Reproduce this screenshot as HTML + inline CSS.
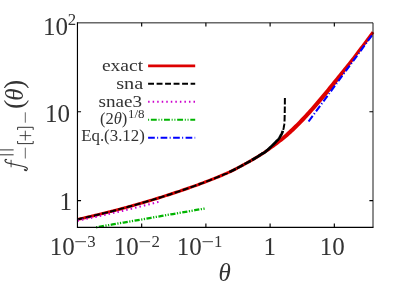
<!DOCTYPE html>
<html><head><meta charset="utf-8"><style>
html,body{margin:0;padding:0;background:#fff;}
svg{display:block}
text{font-family:"Liberation Serif",serif;fill:#333;}
</style></head><body>
<svg width="407" height="286" viewBox="0 0 407 286">
<defs><filter id="idf" x="0" y="0" width="407" height="286" filterUnits="userSpaceOnUse"><feOffset dx="0" dy="0"/></filter></defs>
<rect width="407" height="286" fill="#fff"/>
<g fill="none" stroke-linejoin="round">
<path d="M77.77 220.89 L79.26 220.56 L80.75 220.23 L82.23 219.89 L83.72 219.56 L85.21 219.22 L86.70 218.88 L88.18 218.54 L89.67 218.19 L91.16 217.85 L92.65 217.50 L94.13 217.15 L95.62 216.79 L97.11 216.43 L98.60 216.07 L100.08 215.71 L101.57 215.35 L103.06 214.98 L104.55 214.61 L106.03 214.24 L107.52 213.87 L109.01 213.49 L110.50 213.11 L111.98 212.73 L113.47 212.35 L114.96 211.96 L116.44 211.57 L117.93 211.18 L119.42 210.79 L120.91 210.39 L122.39 209.99 L123.88 209.59 L125.37 209.19 L126.86 208.78 L128.34 208.38 L129.83 207.96 L131.32 207.55 L132.81 207.14 L134.29 206.72 L135.78 206.30 L137.27 205.87 L138.76 205.45 L140.24 205.02 L141.73 204.59 L143.22 204.16 L144.71 203.72 L146.19 203.28 L147.68 202.84 L149.17 202.40 L150.66 201.95 L152.14 201.50 L153.63 201.05 L155.12 200.60 L156.61 200.14 L158.09 199.68 L159.58 199.22 L161.07 198.76 L162.56 198.29 L164.04 197.82 L165.53 197.35 L167.02 196.87 L168.51 196.40 L169.99 195.91 L171.48 195.43 L172.97 194.94 L174.46 194.46 L175.94 193.96 L177.43 193.47 L178.92 192.97 L180.41 192.47 L181.90 191.96 L183.38 191.46 L184.87 190.95 L186.36 190.43 L187.85 189.91 L189.33 189.39 L190.82 188.87 L192.31 188.34 L193.80 187.81 L195.29 187.28 L196.78 186.74 L198.26 186.20 L199.75 185.65 L201.24 185.10 L202.73 184.54 L204.22 183.99 L205.71 183.42 L207.20 182.85 L208.69 182.28 L210.17 181.70 L211.66 181.12 L213.15 180.53 L214.64 179.94 L216.13 179.34 L217.62 178.74 L219.11 178.13 L220.60 177.51 L222.09 176.89 L223.58 176.26 L225.07 175.62 L226.57 174.98 L228.06 174.33 L229.59 173.61 L231.08 172.88 L232.57 172.15 L234.07 171.40 L235.56 170.65 L237.05 169.89 L238.54 169.11 L240.04 168.33 L241.53 167.53 L243.02 166.73 L244.52 165.91 L246.01 165.08 L247.47 164.27 L248.97 163.46 L250.46 162.63 L251.96 161.79 L253.45 160.93 L254.95 160.05 L256.44 159.16 L257.94 158.25 L259.44 157.33 L260.93 156.39 L262.43 155.42 L263.92 154.46 L265.41 153.47 L266.91 152.47 L268.41 151.44 L269.90 150.39 L271.40 149.32 L272.90 148.23 L274.42 147.15 L275.95 146.05 L277.47 144.92 L279.00 143.78 L280.52 142.60 L282.05 141.41 L283.58 140.19 L285.11 138.94 L286.63 137.68 L288.16 136.39 L289.69 135.07 L291.22 133.73 L292.72 132.34 L294.22 130.92 L295.71 129.48 L297.21 128.02 L298.70 126.54 L300.20 125.03 L301.70 123.51 L303.19 121.96 L304.68 120.39 L306.18 118.81 L307.67 117.21 L309.16 115.58 L310.66 113.95 L312.15 112.29 L313.64 110.62 L315.13 108.93 L316.62 107.22 L318.11 105.51 L319.61 103.77 L321.10 102.03 L322.59 100.27 L324.08 98.49 L325.57 96.71 L327.05 94.91 L328.54 93.10 L330.03 91.28 L331.52 89.46 L333.01 87.62 L334.50 85.77 L335.99 83.91 L337.45 82.03 L338.91 80.13 L340.36 78.22 L341.82 76.30 L343.27 74.38 L344.72 72.44 L346.17 70.51 L347.63 68.56 L349.08 66.61 L350.53 64.65 L351.98 62.69 L353.44 60.73 L354.93 58.78 L356.41 56.83 L357.90 54.87 L359.38 52.91 L360.87 50.94 L362.36 48.97 L363.84 46.99 L365.33 45.01 L366.82 43.03 L368.30 41.04 L369.79 39.04 L371.27 37.05 L372.76 35.05 L374.25 33.04 L371.75 31.20 L370.27 33.20 L368.79 35.20 L367.30 37.19 L365.82 39.18 L364.33 41.17 L362.85 43.15 L361.36 45.13 L359.88 47.10 L358.40 49.07 L356.91 51.04 L355.43 53.00 L353.94 54.95 L352.46 56.90 L350.98 58.84 L349.46 60.76 L347.94 62.66 L346.43 64.56 L344.91 66.46 L343.39 68.34 L341.87 70.22 L340.35 72.10 L338.84 73.96 L337.32 75.82 L335.80 77.67 L334.29 79.51 L332.78 81.35 L331.30 83.20 L329.82 85.04 L328.34 86.87 L326.86 88.69 L325.38 90.50 L323.89 92.30 L322.41 94.09 L320.93 95.86 L319.45 97.62 L317.97 99.37 L316.49 101.10 L315.01 102.83 L313.53 104.53 L312.05 106.22 L310.57 107.89 L309.10 109.55 L307.62 111.19 L306.14 112.82 L304.66 114.42 L303.19 116.01 L301.71 117.57 L300.23 119.12 L298.76 120.65 L297.28 122.15 L295.81 123.64 L294.33 125.10 L292.86 126.54 L291.38 127.96 L289.91 129.35 L288.44 130.73 L287.00 132.11 L285.56 133.47 L284.12 134.81 L282.67 136.12 L281.23 137.41 L279.79 138.68 L278.34 139.92 L276.90 141.15 L275.46 142.35 L274.01 143.52 L272.56 144.68 L271.12 145.81 L269.64 146.89 L268.17 147.94 L266.70 148.97 L265.22 149.98 L263.75 150.98 L262.28 151.95 L260.80 152.91 L259.32 153.86 L257.85 154.78 L256.37 155.70 L254.90 156.59 L253.42 157.47 L251.95 158.33 L250.47 159.18 L249.00 160.01 L247.52 160.83 L246.05 161.63 L244.54 162.46 L243.06 163.28 L241.59 164.09 L240.11 164.89 L238.63 165.68 L237.16 166.45 L235.68 167.22 L234.20 167.98 L232.72 168.72 L231.24 169.46 L229.76 170.19 L228.28 170.91 L226.85 171.58 L225.37 172.23 L223.89 172.87 L222.41 173.50 L220.93 174.12 L219.45 174.74 L217.97 175.35 L216.49 175.96 L215.01 176.56 L213.53 177.16 L212.05 177.75 L210.57 178.33 L209.09 178.91 L207.61 179.48 L206.12 180.05 L204.64 180.62 L203.16 181.18 L201.68 181.73 L200.20 182.29 L198.72 182.83 L197.23 183.38 L195.75 183.92 L194.27 184.45 L192.79 184.99 L191.31 185.52 L189.82 186.04 L188.34 186.56 L186.86 187.08 L185.38 187.60 L183.89 188.11 L182.41 188.62 L180.93 189.12 L179.45 189.63 L177.96 190.13 L176.48 190.62 L175.00 191.12 L173.52 191.61 L172.03 192.09 L170.55 192.58 L169.07 193.06 L167.59 193.54 L166.10 194.02 L164.62 194.49 L163.14 194.96 L161.65 195.43 L160.17 195.89 L158.69 196.36 L157.21 196.82 L155.72 197.28 L154.24 197.73 L152.76 198.18 L151.27 198.63 L149.79 199.08 L148.31 199.52 L146.83 199.97 L145.34 200.41 L143.86 200.84 L142.38 201.28 L140.89 201.71 L139.41 202.14 L137.93 202.56 L136.45 202.99 L134.96 203.41 L133.48 203.83 L132.00 204.25 L130.51 204.66 L129.03 205.07 L127.55 205.48 L126.06 205.89 L124.58 206.29 L123.10 206.70 L121.62 207.10 L120.13 207.49 L118.65 207.89 L117.17 208.28 L115.68 208.67 L114.20 209.06 L112.72 209.44 L111.24 209.83 L109.75 210.21 L108.27 210.58 L106.79 210.96 L105.30 211.33 L103.82 211.70 L102.34 212.07 L100.85 212.44 L99.37 212.80 L97.89 213.16 L96.41 213.52 L94.92 213.87 L93.44 214.23 L91.96 214.58 L90.47 214.93 L88.99 215.27 L87.51 215.62 L86.03 215.96 L84.54 216.30 L83.06 216.63 L81.58 216.97 L80.09 217.30 L78.61 217.63 L77.13 217.96Z" fill="#dd0000" stroke="none"/>
<path d="M77.45 219.42 L79.37 219.00 L81.29 218.57 L83.22 218.14 L85.14 217.70 L87.06 217.26 L88.98 216.81 L90.91 216.37 L92.83 215.91 L94.75 215.46 L96.67 215.00 L98.59 214.53 L100.52 214.06 L102.44 213.59 L104.36 213.11 L106.28 212.63 L108.20 212.15 L110.13 211.66 L112.05 211.16 L113.97 210.67 L115.89 210.17 L117.82 209.66 L119.74 209.15 L121.66 208.64 L123.58 208.12 L125.50 207.60 L127.43 207.07 L129.35 206.54 L131.27 206.01 L133.19 205.47 L135.11 204.93 L137.04 204.38 L138.96 203.83 L140.88 203.27 L142.80 202.71 L144.73 202.15 L146.65 201.58 L148.57 201.01 L150.49 200.44 L152.41 199.85 L154.34 199.27 L156.26 198.68 L158.18 198.09 L160.10 197.49 L162.02 196.89 L163.95 196.28 L165.87 195.67 L167.79 195.05 L169.71 194.43 L171.64 193.80 L173.56 193.17 L175.48 192.54 L177.40 191.90 L179.32 191.25 L181.25 190.60 L183.17 189.94 L185.09 189.28 L187.01 188.62 L188.93 187.94 L190.86 187.27 L192.78 186.58 L194.70 185.89 L196.62 185.20 L198.55 184.50 L200.47 183.79 L202.39 183.07 L204.31 182.35 L206.23 181.62 L208.16 180.88 L210.08 180.13 L212.00 179.38 L213.92 178.61 L215.84 177.84 L217.77 177.06 L219.69 176.27 L221.61 175.46 L223.53 174.65 L225.46 173.82 L227.38 172.99 L229.30 172.08" stroke="#000" stroke-width="2" stroke-dasharray="6.2 2.2"/>
<path d="M229.30 172.08 L230.08 171.70 L230.87 171.32 L231.65 170.93 L232.43 170.54 L233.21 170.15 L234.00 169.76 L234.78 169.36 L235.56 168.97 L236.34 168.56 L237.13 168.16 L237.91 167.75 L238.69 167.34 L239.48 166.93 L240.26 166.51 L241.04 166.09 L241.82 165.67 L242.61 165.25 L243.39 164.82 L244.17 164.38 L244.96 163.95 L245.74 163.51 L246.52 163.08 L247.30 162.66 L248.09 162.23 L248.87 161.80 L249.65 161.36 L250.43 160.92 L251.22 160.48 L252.00 160.03" stroke="#000" stroke-width="2.5" stroke-dasharray="7.4 1.1"/>
<path d="M252.00 160.03 L252.89 159.52 L253.78 159.00 L254.67 158.48 L255.56 157.95 L256.44 157.41 L257.33 156.87 L258.22 156.32 L259.11 155.76 L260.00 155.20 L260.00 155.20 L260.85 154.52 L261.51 154.03 L262.01 153.70 L262.40 153.49 L262.71 153.36 L262.98 153.27 L263.25 153.19 L263.55 153.06 L263.92 152.86 L264.41 152.54 L265.04 152.06 L265.86 151.39 L266.88 150.50 L268.08 149.43 L269.36 148.25 L270.65 147.04 L271.88 145.87 L272.98 144.82 L273.86 143.95 L274.55 143.25 L275.08 142.70 L275.51 142.25 L275.86 141.86 L276.20 141.51 L276.55 141.15 L276.92 140.78 L277.31 140.39 L277.71 139.99 L278.09 139.58 L278.46 139.16 L278.81 138.74 L279.12 138.32 L279.41 137.89 L279.68 137.46 L279.93 137.03 L280.18 136.60 L280.43 136.17 L280.68 135.73 L280.93 135.29 L281.17 134.84 L281.41 134.40 L281.63 133.95 L281.85 133.49 L282.05 133.03 L282.23 132.57 L282.40 132.12 L282.56 131.68 L282.71 131.25 L282.85 130.85" stroke="#000" stroke-width="2.7"/>
<path d="M284.90 98.10 L284.88 100.57 L284.86 102.98 L284.84 105.33 L284.81 107.60 L284.78 109.77 L284.75 111.85 L284.72 113.80 L284.68 115.62 L284.64 117.30 L284.60 118.82 L284.56 120.17 L284.51 121.34 L284.46 122.31 L284.40 123.12 L284.34 123.79 L284.27 124.37 L284.20 124.89 L284.12 125.38 L284.03 125.89 L283.94 126.42 L283.84 126.95 L283.74 127.47 L283.64 127.98 L283.53 128.46 L283.43 128.90 L283.32 129.32 L283.21 129.71 L283.10 130.08 L282.98 130.46 L282.85 130.85" stroke="#000" stroke-width="2" stroke-dasharray="6.4 2.1"/>
<path d="M77.45 220.72 L79.48 220.31 L81.50 219.89 L83.53 219.48 L85.56 219.06 L87.58 218.63 L89.61 218.21 L91.63 217.78 L93.66 217.34 L95.69 216.91 L97.71 216.47 L99.74 216.03 L101.77 215.58 L103.79 215.14 L105.82 214.69 L107.84 214.23 L109.87 213.78 L111.90 213.32 L113.92 212.85 L115.95 212.39 L117.97 211.92 L120.00 211.45 L122.03 210.97 L124.05 210.49 L126.08 210.01 L128.11 209.53 L130.13 209.04 L132.16 208.55 L134.19 208.06 L136.21 207.56 L138.24 207.06 L140.26 206.56 L142.29 206.05 L144.32 205.54 L146.34 205.03 L148.37 204.52 L150.39 204.00 L152.42 203.47 L154.45 202.95 L156.47 202.42 L158.50 201.89" stroke="#cc00cc" stroke-width="2" stroke-dasharray="1.5 3.04"/>
<path d="M96.12 227.30 L101.61 226.35 L107.10 225.40 L112.59 224.45 L118.07 223.50 L123.56 222.56 L129.05 221.61 L134.54 220.66 L140.03 219.71 L145.52 218.76 L151.01 217.81 L156.49 216.86 L161.98 215.92 L167.47 214.97 L172.96 214.02 L178.45 213.07 L183.94 212.12 L189.42 211.17 L194.91 210.22 L200.40 209.28 L205.89 208.33" stroke="#00b400" stroke-width="2.3" stroke-dasharray="5.2 1.5 1.2 1.5 1.2 1.5" stroke-dashoffset="9.4"/>
<path d="M308.60 121.50 L373.30 33.60" stroke="#0000ff" stroke-width="2.1" stroke-dasharray="6.9 2.25 1.1 2.25"/>
<path d="M148.1 65.85H195.2" stroke="#dd0000" stroke-width="2.8"/>
<path d="M148.1 83.7H195.2" stroke="#000" stroke-width="2" stroke-dasharray="5.9 2.6"/>
<path d="M148.1 101.8H195.2" stroke="#cc00cc" stroke-width="2" stroke-dasharray="1.5 3.04"/>
<path d="M148.1 119.85H195.2" stroke="#00b400" stroke-width="2" stroke-dasharray="5.9 1.75 1 1.75 1 1.75" stroke-dashoffset="10.4"/>
<path d="M148.1 137.85H195.2" stroke="#0000ff" stroke-width="2" stroke-dasharray="6.7 2.35 1 2.45"/>
</g>
<g fill="none" stroke="#000" stroke-width="1.15">
<path d="M77.45 22.35V227.3H373.5"/>
<path d="M77.45 22.85H373.0V227.3" stroke-width="0.9"/>
<path d="M77.45 111.78h3.6M77.45 200.57h3.6M373.0 111.78h-3.6M373.0 200.57h-3.6"/>
<path d="M141.67 227.3v-3.7M205.89 227.3v-3.7M270.11 227.3v-3.7M334.33 227.3v-3.7"/>
<path d="M141.67 22.85v3.7M205.89 22.85v3.7M270.11 22.85v3.7M334.33 22.85v3.7"/>
</g>
<g filter="url(#idf)">
<g font-size="25">
<text x="68" y="34.5" text-anchor="end">10</text><text x="67.7" y="24.7" font-size="16.8">2</text>
<text x="70" y="121.5" text-anchor="end">10</text>
<text x="72" y="210.4" text-anchor="end">1</text>
<text x="49.8" y="255.4">10</text><text x="87.2" y="246.5" font-size="16.8">3</text>
<text x="113.8" y="255.4">10</text><text x="151.4" y="246.5" font-size="16.8">2</text>
<text x="176.7" y="255.4">10</text><text x="214.0" y="246.5" font-size="16.8">1</text>
<text x="263.4" y="255.4">1</text>
<text x="319.8" y="255.4">10</text>
<text x="218.5" y="281" font-style="italic">θ</text>
<path d="M75.3 241.7h10.7M139.6 241.7h10.5M202.5 241.7h10.5" stroke="#333" stroke-width="0.95" fill="none"/>
</g>
<g font-size="17.6">
<text x="101.9" y="71.3" textLength="41.3" lengthAdjust="spacingAndGlyphs">exact</text>
<text x="116.2" y="89.1" textLength="27.1" lengthAdjust="spacingAndGlyphs">sna</text>
<text x="98.5" y="106.9" textLength="43.6" lengthAdjust="spacingAndGlyphs">snae3</text>
<text x="81.2" y="141.4" textLength="63.6" lengthAdjust="spacingAndGlyphs">Eq.(3.12)</text>
<text x="99.9" y="124.2" textLength="27.4" lengthAdjust="spacingAndGlyphs">(2<tspan font-style="italic">θ</tspan>)</text>
<text x="127.9" y="118.4" font-size="12.4" textLength="16.6" lengthAdjust="spacingAndGlyphs">1/8</text>
</g>
<g transform="translate(22,171.5) rotate(-90)">
<text x="62.6" y="0.8" font-size="28">(</text>
<text x="70.8" y="1" font-size="25" font-style="italic">θ</text>
<text x="82.4" y="0.8" font-size="28">)</text>
<g stroke="#333" stroke-width="1" fill="none">
<path d="M16.7 -22v13.6M21.6 -22v13.6"/>
<path d="M13 3.3h10.8M48.8 3.3h10.4" stroke="#555" stroke-width="0.9"/>
<path d="M30.5 -4.4h-2.6v15.6h2.6M41.6 -4.4h2.6v15.6h-2.6"/>
<path d="M31 3.3h9.8M35.9 -2.4v11.6" stroke-width="0.9"/>
</g>
</g>
<g stroke="#333" fill="none" stroke-linecap="round">
<path d="M5.9 159.5C4.5 159.7 4.4 162 7.5 162.9L22.5 166.3C27 167.3 28.3 168.6 26.7 170.2C25.9 170.9 24.9 170.6 24.8 169.8" stroke-width="1.15"/>
<path d="M11.1 160.2V166.9" stroke-width="0.9"/>
<circle cx="6" cy="159.6" r="0.6" fill="#333" stroke-width="0.6"/>
<circle cx="24.9" cy="169.8" r="0.6" fill="#333" stroke-width="0.6"/>
</g>
</g>
</svg>
</body></html>
